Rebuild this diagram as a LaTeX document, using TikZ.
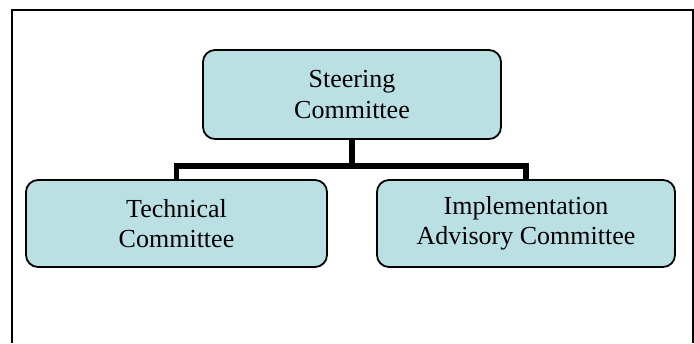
\documentclass[tikz,border=0pt]{standalone}
\usepackage{fontspec}
\setmainfont{Liberation Serif}
\definecolor{boxfill}{RGB}{186,224,227}
\tikzset{
  commbox/.style={draw=black, line width=1.8pt, fill=boxfill, rounded corners=12pt,
    align=center, inner sep=0pt, font=\fontsize{26}{30.5}\selectfont},
  conn/.style={draw=black, line width=5.5pt},
  frameline/.style={draw=black, line width=2pt}
}
\begin{document}
\begin{tikzpicture}[x=1pt,y=-1pt]
\useasboundingbox (0,0) rectangle (694,343);
\draw[frameline] (12,343) -- (12,9.5) -- (693,9.5) -- (693,343);
\node[commbox, minimum width=298pt, minimum height=89pt] (steer) at (352,94.5) {Steering\\Committee};
\node[commbox, minimum width=301pt, minimum height=87pt] (tech) at (176.5,223.5) {Technical\\Committee};
\node[commbox, minimum width=298pt, minimum height=87pt] (impl) at (526,223.5) {Implementation\\Advisory Committee};
\coordinate (j) at (352,166);
\draw[conn] (steer.south) -- (j);
\draw[conn] (tech.north) |- (j) -| (impl.north);
\end{tikzpicture}
\end{document}
